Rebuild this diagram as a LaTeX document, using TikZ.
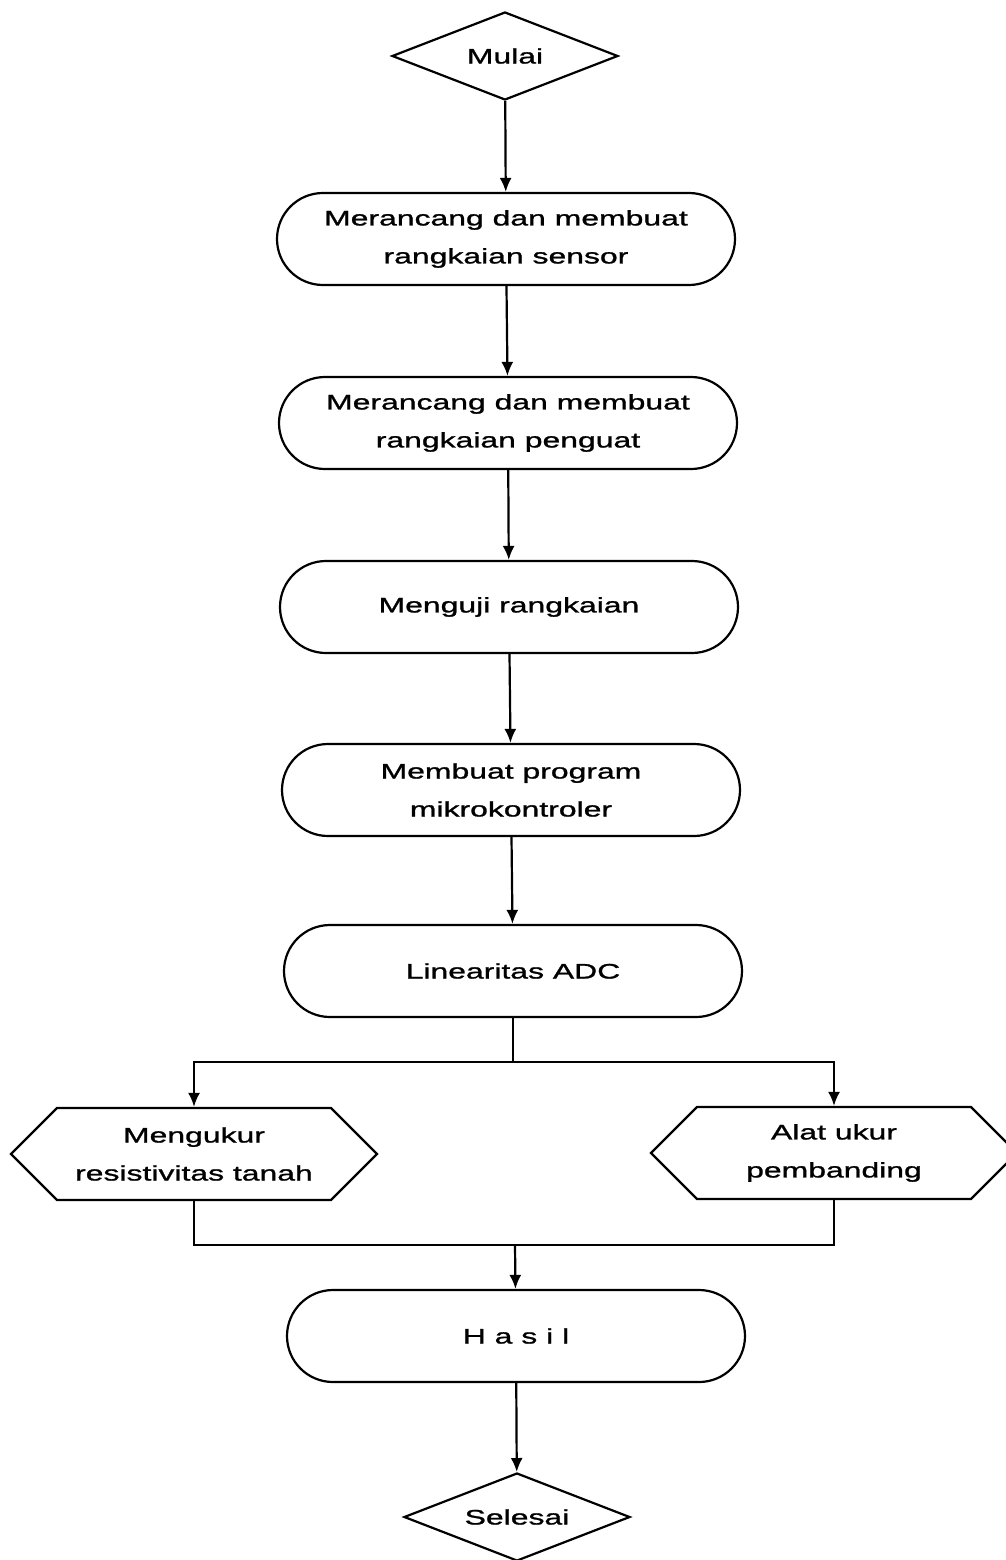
\documentclass[tikz,border=0pt]{standalone}
\usepackage{fontspec}
\setmainfont{Liberation Sans}[FakeStretch=1.52, FakeBold=1.2]
\usepackage{tikz}
\usetikzlibrary{shapes.geometric, shapes.misc, shapes.symbols, arrows.meta, positioning}

\begin{document}
\begin{tikzpicture}[
            x=1pt, y=-1pt,
            line width=2.2pt,
            font=\fontsize{21}{38}\selectfont,
            term/.style={diamond, draw, aspect=2.6, inner sep=0pt, minimum width=226pt, minimum height=88pt},
            proc/.style={rounded rectangle, draw, align=center, inner sep=0pt, minimum width=458pt, minimum height=92pt},
            io/.style={signal, signal to=west and east, signal pointer angle=90, draw, align=center, inner sep=0pt, minimum width=366pt, minimum height=92pt},
            arrow/.style={-{Latex[length=14pt, width=12pt]}}
        ]
        \useasboundingbox (0,0) rectangle (1006,1560);

        % Start
        \node[term] (mulai) at (505, 56) {Mulai};

        % Main steps
        \node[proc] (sensor) at (506, 239) {Merancang dan membuat\\rangkaian sensor};
        \node[proc] (penguat) at (508, 423) {Merancang dan membuat\\rangkaian penguat};
        \node[proc] (uji) at (509, 607) {Menguji rangkaian};
        \node[proc] (program) at (511, 790) {Membuat program\\mikrokontroler};
        \node[proc] (adc) at (513, 971) {Linearitas ADC};

        % Measurement
        \node[io] (ukur) at (194, 1154) {Mengukur\\resistivitas tanah};
        \node[io] (banding) at (834, 1153) {Alat ukur\\pembanding};

        % Result
        \node[proc] (hasil) at (516, 1336) {H a s i l};
        \node[term] (selesai) at (517, 1517) {Selesai};

        \coordinate (fork) at (513, 1062);
        \coordinate (join) at (515, 1245);

        \draw[arrow] (mulai) -- (sensor);
        \draw[arrow] (sensor) -- (penguat);
        \draw[arrow] (penguat) -- (uji);
        \draw[arrow] (uji) -- (program);
        \draw[arrow] (program) -- (adc);
        \draw (adc) -- (fork);
        \draw[arrow] (fork) -| (ukur);
        \draw[arrow] (fork) -| (banding);
        \draw (ukur) |- (join);
        \draw (banding) |- (join);
        \draw[arrow] (join) -- (hasil);
        \draw[arrow] (hasil) -- (selesai);
    \end{tikzpicture}
\end{document}
